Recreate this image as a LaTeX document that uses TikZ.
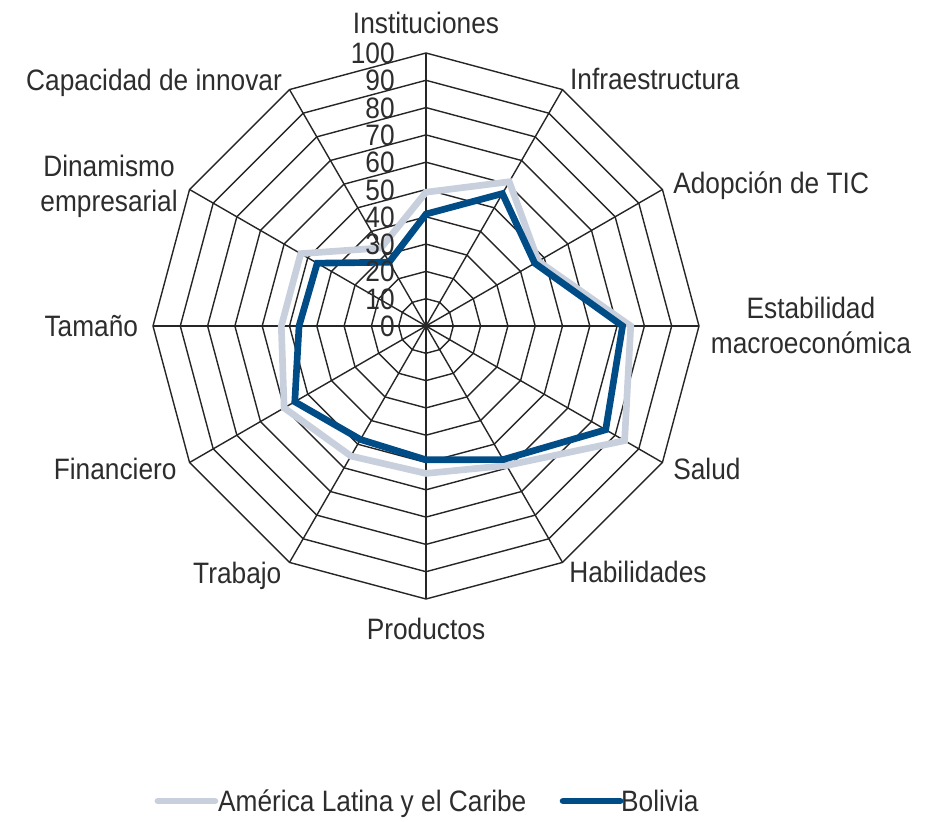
\documentclass[tikz,border=0pt]{standalone}
\usepackage{fontspec}
\setmainfont{Liberation Sans}[FakeStretch=0.89]
\usepackage{tikz}
\usepackage{xcolor}
\definecolor{gridline}{RGB}{38,38,38}
\definecolor{labeltext}{RGB}{45,45,45}
\definecolor{alcgray}{RGB}{201,208,221}
\definecolor{bolblue}{RGB}{0,76,134}

\begin{document}
\begin{tikzpicture}[x=0.0819cm,y=0.0819cm]
\tikzstyle{every node}+=[inner sep=0pt, text=labeltext, font=\fontsize{25.2}{29.9}\selectfont]
\tikzstyle{web}=[gridline, line width=1.2pt]
\tikzstyle{alcline}=[alcgray, line width=5.7pt]
\tikzstyle{bolline}=[bolblue, line width=5.7pt]
\useasboundingbox (-156.04,-181.68) rectangle (187.91,119.41);
\draw [web] (0:10) -- (30:10) -- (60:10) -- (90:10) -- (120:10) -- (150:10) -- (180:10) -- (210:10) -- (240:10) -- (270:10) -- (300:10) -- (330:10) -- cycle;
\draw [web] (0:20) -- (30:20) -- (60:20) -- (90:20) -- (120:20) -- (150:20) -- (180:20) -- (210:20) -- (240:20) -- (270:20) -- (300:20) -- (330:20) -- cycle;
\draw [web] (0:30) -- (30:30) -- (60:30) -- (90:30) -- (120:30) -- (150:30) -- (180:30) -- (210:30) -- (240:30) -- (270:30) -- (300:30) -- (330:30) -- cycle;
\draw [web] (0:40) -- (30:40) -- (60:40) -- (90:40) -- (120:40) -- (150:40) -- (180:40) -- (210:40) -- (240:40) -- (270:40) -- (300:40) -- (330:40) -- cycle;
\draw [web] (0:50) -- (30:50) -- (60:50) -- (90:50) -- (120:50) -- (150:50) -- (180:50) -- (210:50) -- (240:50) -- (270:50) -- (300:50) -- (330:50) -- cycle;
\draw [web] (0:60) -- (30:60) -- (60:60) -- (90:60) -- (120:60) -- (150:60) -- (180:60) -- (210:60) -- (240:60) -- (270:60) -- (300:60) -- (330:60) -- cycle;
\draw [web] (0:70) -- (30:70) -- (60:70) -- (90:70) -- (120:70) -- (150:70) -- (180:70) -- (210:70) -- (240:70) -- (270:70) -- (300:70) -- (330:70) -- cycle;
\draw [web] (0:80) -- (30:80) -- (60:80) -- (90:80) -- (120:80) -- (150:80) -- (180:80) -- (210:80) -- (240:80) -- (270:80) -- (300:80) -- (330:80) -- cycle;
\draw [web] (0:90) -- (30:90) -- (60:90) -- (90:90) -- (120:90) -- (150:90) -- (180:90) -- (210:90) -- (240:90) -- (270:90) -- (300:90) -- (330:90) -- cycle;
\draw [web] (0:100) -- (30:100) -- (60:100) -- (90:100) -- (120:100) -- (150:100) -- (180:100) -- (210:100) -- (240:100) -- (270:100) -- (300:100) -- (330:100) -- cycle;
\draw [web] (0:100) -- (180:100);
\draw [web] (30:100) -- (210:100);
\draw [web] (60:100) -- (240:100);
\draw [web] (90:100) -- (270:100);
\draw [web] (120:100) -- (300:100);
\draw [web] (150:100) -- (330:100);
\draw [alcline] (90:49) -- (60:61) -- (30:47.5) -- (0:75) -- (-30:84) -- (-60:59) -- (-90:54) -- (-120:55) -- (-150:60) -- (180:53) -- (150:53) -- (120:33) -- cycle;
\draw [bolline] (90:41) -- (60:56) -- (30:46) -- (0:72) -- (-30:76) -- (-60:56.5) -- (-90:49) -- (-120:48) -- (-150:55.5) -- (180:46.5) -- (150:46) -- (120:27) -- cycle;
\node (r0) [anchor=base east] at (-11.4,-3.85) {0};
\node (r10) [anchor=base east] at (-11.4,6.15) {10};
\node (r20) [anchor=base east] at (-11.4,16.15) {20};
\node (r30) [anchor=base east] at (-11.4,26.15) {30};
\node (r40) [anchor=base east] at (-11.4,36.15) {40};
\node (r50) [anchor=base east] at (-11.4,46.15) {50};
\node (r60) [anchor=base east] at (-11.4,56.15) {60};
\node (r70) [anchor=base east] at (-11.4,66.15) {70};
\node (r80) [anchor=base east] at (-11.4,76.15) {80};
\node (r90) [anchor=base east] at (-11.4,86.15) {90};
\node (r100) [anchor=base east] at (-11.4,96.15) {100};
\node (instituciones) [anchor=base] at (0,107.3) {Instituciones};
\node (infraestructura) [anchor=base west] at (52.7,86.7) {Infraestructura};
\node (tic) [anchor=base west] at (90.5,48.6) {Adopción de TIC};
\node (estabilidad) [anchor=base, align=center] at (141.0,-10.0) {Estabilidad\\macroeconómica};
\node (salud) [anchor=base west] at (90.5,-56.2) {Salud};
\node (habilidades) [anchor=base west] at (52.4,-94.0) {Habilidades};
\node (productos) [anchor=base] at (0,-115.0) {Productos};
\node (trabajo) [anchor=base east] at (-52.9,-94.2) {Trabajo};
\node (financiero) [anchor=base east] at (-91.3,-56.2) {Financiero};
\node (tamano) [anchor=base east] at (-105.4,-3.7) {Tamaño};
\node (dinamismo) [anchor=base, align=center] at (-116.1,41.8) {Dinamismo\\empresarial};
\node (innovar) [anchor=base east] at (-52.7,86.4) {Capacidad de innovar};
\coordinate (alcA) at (-98.2,-174.0);
\coordinate (alcB) at (-77.3,-174.0);
\draw [alcline, line cap=round] (alcA) -- (alcB);
\node (alclabel) [anchor=base west] at (-76.2,-178.0) {América Latina y el Caribe};
\coordinate (bolA) at (50.2,-174.0);
\coordinate (bolB) at (71.1,-174.0);
\draw [bolline, line cap=round] (bolA) -- (bolB);
\node (bollabel) [anchor=base west] at (71.4,-178.0) {Bolivia};
\end{tikzpicture}
\end{document}
